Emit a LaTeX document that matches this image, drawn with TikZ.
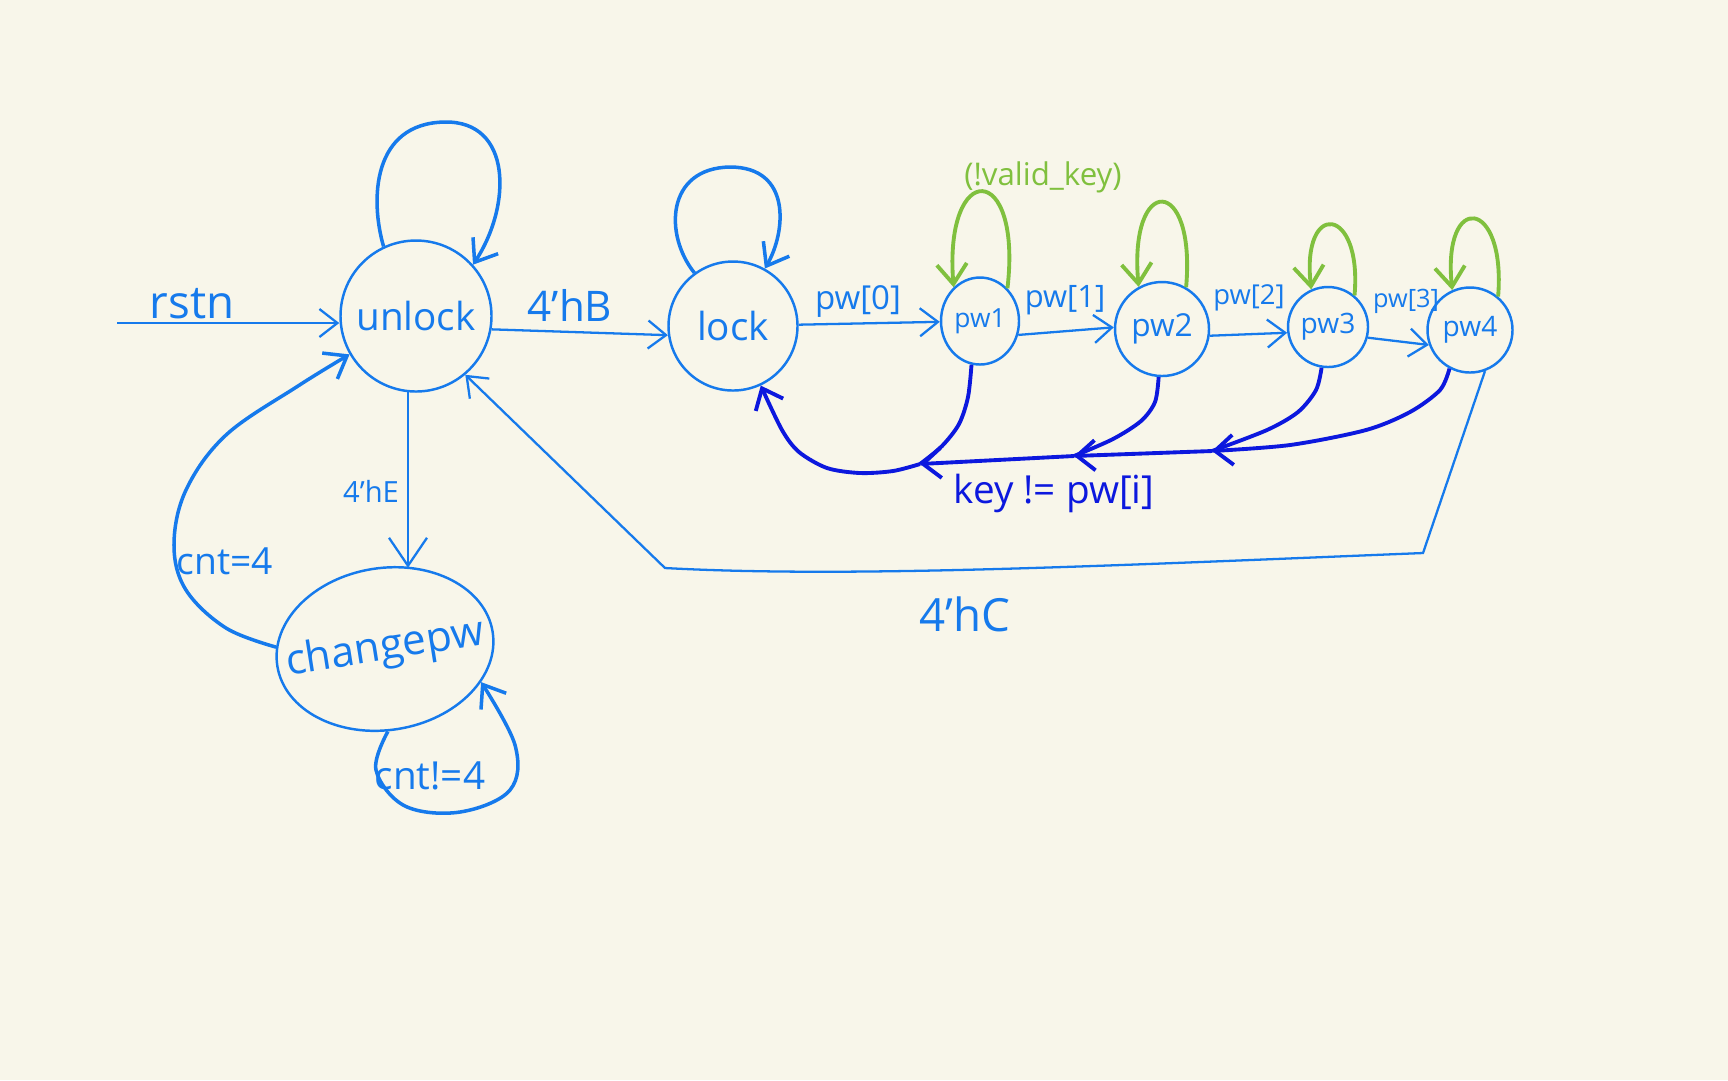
\documentclass[tikz,border=0pt]{standalone}
\usepackage{fontspec}
\setmainfont{Open Sans}
\usetikzlibrary{arrows.meta,shapes.geometric}
\definecolor{paper}{RGB}{248,246,234}
\definecolor{inkblue}{RGB}{22,122,236}
\definecolor{deepblue}{RGB}{12,24,222}
\definecolor{leaf}{RGB}{128,192,62}
\newcommand{\fs}[1]{\fontsize{#1}{#1}\selectfont}
\begin{document}
\begin{tikzpicture}[x=0.1mm, y=-0.1mm,
  state/.style={draw=inkblue, line width=0.7pt, circle, inner sep=0pt, text=inkblue},
  edge/.style={draw=inkblue, line width=0.65pt, -{Straight Barb[length=1.8mm,width=2.8mm]}},
  selfloop/.style={draw=inkblue, line width=1pt, -{Straight Barb[length=2mm,width=3mm]}},
  keyloop/.style={draw=leaf, line width=1.1pt, -{Straight Barb[length=2mm,width=3mm]}},
  back/.style={draw=deepblue, line width=1.1pt},
  backarrow/.style={back, -{Straight Barb[length=1.8mm,width=3mm]}},
  lbl/.style={text=inkblue, inner sep=0pt}]

\fill[paper] (0,0) rectangle (1728,1080); % paper
\useasboundingbox (0,0) rectangle (1728,1080);

% states
\node[state, minimum size=15.1mm, font=\fs{11}] (unlock) at (416,316) {unlock}; % unlock
\node[state, minimum size=12.9mm, font=\fs{11}] (lock) at (733,326) {lock}; % lock
\node[state, ellipse, minimum width=7.8mm, minimum height=8.7mm, font=\fs{7.5}] (pw1) at (980,321) {pw1}; % pw1
\node[state, minimum size=9.4mm, font=\fs{9}] (pw2) at (1162,329) {pw2}; % pw2
\node[state, minimum size=8mm, font=\fs{8}] (pw3) at (1328,327) {pw3}; % pw3
\node[state, minimum size=8.5mm, font=\fs{8}] (pw4) at (1470,330) {pw4}; % pw4
\node[state, ellipse, inner xsep=-3.2mm, minimum width=21.8mm, minimum height=16.2mm, rotate=9, font=\fs{12}] (changepw) at (385,649) {changepw}; % changepw

% reset input
\coordinate (rst) at (117,323);
\draw[edge] (rst) -- (rst -| unlock.west); % rstn
\node[lbl, font=\fs{13}] (rstnlbl) at (192,304) {rstn};

% self loops
\draw[selfloop] (unlock.115) .. controls (370,200) and (372,123) .. (445,122) .. controls (512,121) and (512,205) .. (unlock.42); % unlock loop
\draw[selfloop] (lock.126) .. controls (664,235) and (666,168) .. (730,167) .. controls (792,167) and (786,232) .. (lock.61); % lock loop
\draw[selfloop] plot[smooth, tension=0.6] coordinates {(changepw.-97) (376,770) (405,806) (460,812) (510,790) (515,745) (changepw.-28)}; % changepw loop
\node[lbl, font=\fs{11}] (cntnelbl) at (430,776) {cnt!=4};

% green loops
\draw[keyloop] (pw1.50) .. controls +(15,-128) and +(-10,-128) .. (pw1.128);
\draw[keyloop] (pw2.60) .. controls +(10,-113) and +(-10,-113) .. (pw2.119);
\draw[keyloop] (pw3.50) .. controls +(8,-90) and +(-10,-90) .. (pw3.114);
\draw[keyloop] (pw4.50) .. controls +(8,-99) and +(-10,-99) .. (pw4.114);
\node[lbl, text=leaf, font=\fs{8.9}] (validlbl) at (1043,177) {(!valid\_key)};

% forward edges
\draw[edge] (unlock.-10) -- (lock.-172); % 4'hB
\node[lbl, font=\fs{12}] (hBlbl) at (570,305) {4'hB};
\draw[edge] (lock) -- (pw1); % pw[0]
\node[lbl, font=\fs{9.4}] (pw0lbl) at (858,301) {pw[0]};
\draw[edge] (pw1.-20) -- (pw2.178); % pw[1]
\node[lbl, font=\fs{8.8}] (pw1lbl) at (1065,300) {pw[1]};
\draw[edge] (pw2.-8) -- (pw3.188); % pw[2]
\node[lbl, font=\fs{7.8}] (pw2lbl) at (1249,298) {pw[2]};
\draw[edge] (pw3.-15) -- (pw4.200); % pw[3]
\node[lbl, font=\fs{7.2}] (pw3lbl) at (1406,301) {pw[3]};

% unlock <-> changepw
\draw[edge, -{Straight Barb[length=2.8mm,width=3.8mm]}] (unlock.-96) -- (unlock.-96 |- changepw.north); % 4'hE
\node[lbl, font=\fs{8.3}] (hElbl) at (371,491) {4'hE};
\draw[selfloop] plot[smooth, tension=0.6] coordinates {(changepw.170) (226,628) (186,590) (174,545) (186,490) (226,435) (298,386) (unlock.210)}; % cnt=4
\node[lbl, font=\fs{10.6}] (cnteqlbl) at (225,561) {cnt=4};

% pw4 back to unlock
\coordinate (hcturn) at (1423,553);
\coordinate (hcend) at (665,568);
\draw[edge] (pw4.-70) -- (hcturn) .. controls (1100,566) and (850,578) .. (hcend) -- (unlock.-50); % 4'hC
\node[lbl, font=\fs{13}] (hClbl) at (965,614) {4'hC};

% wrong key back to lock
\coordinate (jA) at (1212,451);
\coordinate (jB) at (1074,456);
\coordinate (jC) at (920,464);
\draw[backarrow] plot[smooth] coordinates {(pw4.-118) (1440,390) (1410,412) (1366,430) (1290,445) (jA)};
\draw[back] plot[smooth] coordinates {(pw3.-99) (1316,390) (1298,412) (1267,430) (jA)};
\draw[backarrow] (jA) -- (jB);
\draw[back] plot[smooth] coordinates {(pw2.-94) (1155,402) (1141,421) (1113,439) (jB)};
\draw[backarrow] (jB) -- (jC);
\draw[back] plot[smooth] coordinates {(pw1.-101) (968,397) (959,424) (942,446) (jC)};
\draw[backarrow] plot[smooth] coordinates {(jC) (893,471) (860,473) (827,468) (799,452) (782,430) (lock.-65)};
\node[lbl, text=deepblue, font=\fs{11}] (keylbl) at (1054,493) {key != pw[i]};

\end{tikzpicture}
\end{document}
